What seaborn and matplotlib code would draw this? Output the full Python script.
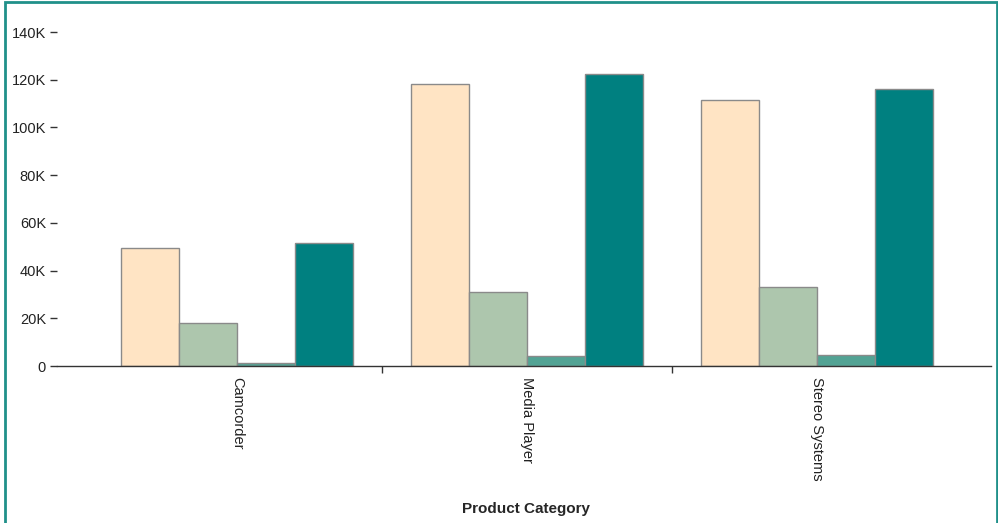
import seaborn as sns
import matplotlib.pyplot as plt
import pandas as pd
from matplotlib.patches import Rectangle
from matplotlib.ticker import FuncFormatter

# Values (units)
categories = ['Camcorder', 'Media Player', 'Stereo Systems']
series = ['Series 1', 'Series 2', 'Series 3', 'Series 4']
series_1 = [49500, 118200, 111600]
series_2 = [18000, 31000, 33100]
series_3 = [1300, 4200, 4600]
series_4 = [51500, 122400, 116100]

colors = ['#FFE4C4', '#ADC6AD', '#52A394', '#008080']

df = pd.DataFrame({
    'category': categories * 4,
    'series': [s for s in series for _ in categories],
    'value': series_1 + series_2 + series_3 + series_4,
})

sns.set_style('white')
plt.rcParams['font.family'] = ['Liberation Sans', 'DejaVu Sans']

fig = plt.figure(figsize=(9.98, 5.23), dpi=100)
ax = fig.add_axes([57 / 998, 1 - 366 / 523, (991 - 57) / 998, (366 - 32) / 523])

sns.barplot(
    data=df, x='category', y='value', hue='series',
    order=categories, hue_order=series, palette=colors, saturation=1,
    width=0.8, edgecolor='#8a8a8a', linewidth=1, legend=False, ax=ax
)

ax.set_ylim(0, 140000)
ax.set_xlim(-0.62, 2.6)
ax.set_yticks(range(0, 140001, 20000))
ax.yaxis.set_major_formatter(FuncFormatter(lambda v, p: '0' if v == 0 else f'{int(v / 1000)}K'))
ax.tick_params(axis='y', length=5, width=1, color='#333333', labelsize=10.5,
               labelcolor='#222222', pad=3, left=True)
ax.tick_params(axis='x', length=0, labelsize=10.5, labelcolor='#222222', pad=8, labelrotation=270)
ax.set_xticks(range(len(categories)))
ax.set_xticklabels(categories, va='top', ha='center')
ax.set_xticks([0.5, 1.5], minor=True)
ax.tick_params(axis='x', which='minor', length=5, width=1, color='#333333', bottom=True)

for side in ['top', 'right', 'left']:
    ax.spines[side].set_visible(False)
ax.spines['bottom'].set_color('#333333')
ax.spines['bottom'].set_linewidth(1)

ax.set_ylabel('')
ax.set_xlabel('Product Category', fontsize=11, fontweight='bold', va='center')
ax.xaxis.set_label_coords(0.502, (366 - 509) / 334)

# teal frame around the figure
fig.add_artist(Rectangle((5 / 998, -0.05), (997 - 5) / 998, 1 - 2 / 523 + 0.05,
                         transform=fig.transFigure, fill=False,
                         edgecolor='#20908A', linewidth=2))

fig.savefig('out.png', dpi=100)
